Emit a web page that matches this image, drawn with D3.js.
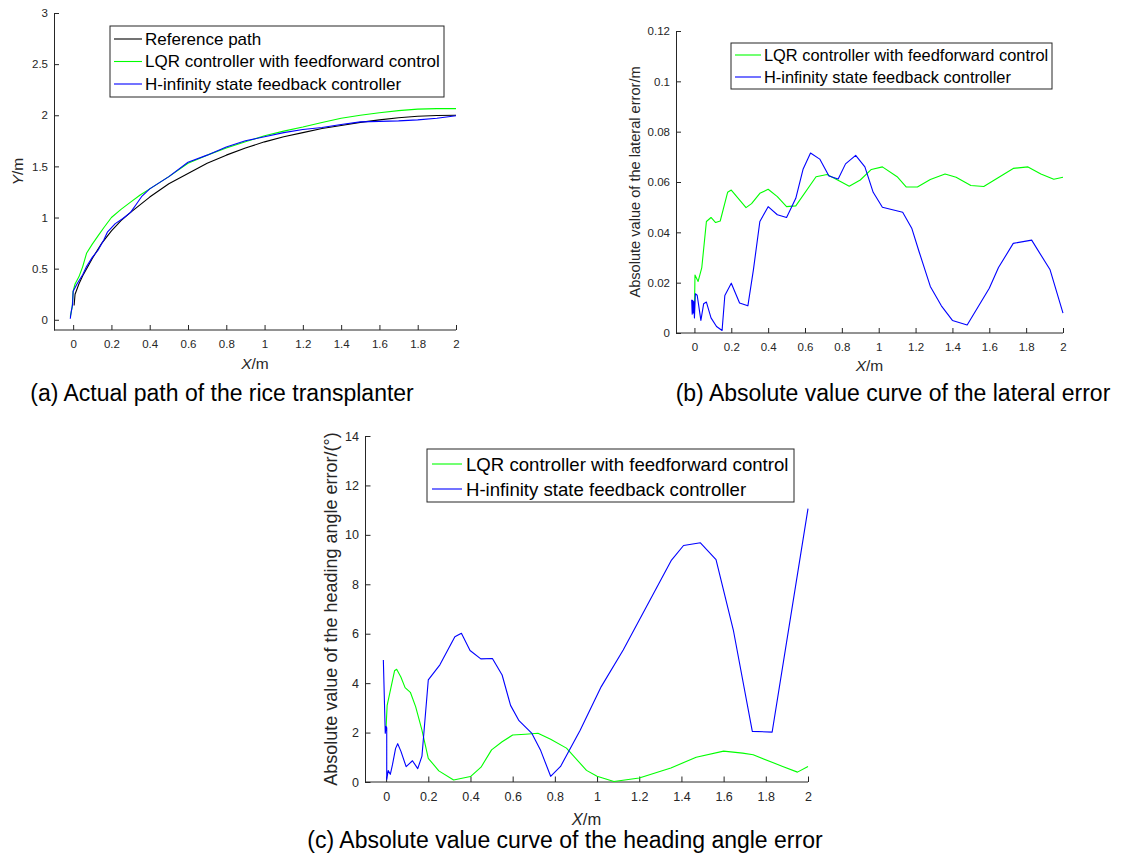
<!DOCTYPE html>
<html>
<head>
<meta charset="utf-8">
<script src="https://cdn.jsdelivr.net/npm/d3@7"></script>
<style>
  body { margin: 0; background: #fff; }
  svg { display: block; font-family: "Liberation Sans", Arial, sans-serif; }
</style>
</head>
<body>
<div id="app"></div>
<script>
// ---- data ----
// (a) actual path
const refX = [0.005, 0.01, 0.03, 0.05, 0.08, 0.1, 0.15, 0.2, 0.25, 0.3, 0.4, 0.5, 0.6, 0.7, 0.8, 0.9, 1.0, 1.1, 1.2, 1.3, 1.4, 1.5, 1.6, 1.7, 1.8, 1.9, 2.0]
const refY = [0.14, 0.25, 0.35, 0.43, 0.53, 0.6, 0.75, 0.87, 0.97, 1.05, 1.2, 1.33, 1.43, 1.53, 1.61, 1.68, 1.74, 1.79, 1.83, 1.87, 1.9, 1.93, 1.955, 1.975, 1.99, 1.997, 2.0]
const lqrPathX = [-0.015, -0.005, 0.0, 0.01, 0.03, 0.05, 0.07, 0.1, 0.13, 0.16, 0.2, 0.25, 0.3, 0.35, 0.4, 0.5, 0.6, 0.7, 0.8, 0.9, 1.0, 1.1, 1.2, 1.3, 1.4, 1.5, 1.6, 1.7, 1.8, 1.9, 2.0]
const lqrPathY = [0.03, 0.12, 0.28, 0.35, 0.42, 0.52, 0.65, 0.74, 0.82, 0.9, 1.0, 1.08, 1.15, 1.22, 1.28, 1.4, 1.53, 1.61, 1.68, 1.74, 1.8, 1.845, 1.885, 1.93, 1.97, 2.0, 2.025, 2.045, 2.06, 2.065, 2.065]
const hinfPathX = [-0.015, -0.01, -0.003, 0.0, 0.02, 0.05, 0.07, 0.1, 0.13, 0.16, 0.18, 0.22, 0.26, 0.3, 0.33, 0.36, 0.4, 0.5, 0.6, 0.7, 0.8, 0.9, 1.0, 1.1, 1.2, 1.3, 1.4, 1.5, 1.6, 1.7, 1.8, 1.9, 2.0]
const hinfPathY = [0.01, 0.08, 0.15, 0.28, 0.35, 0.44, 0.52, 0.61, 0.68, 0.78, 0.86, 0.94, 0.99, 1.05, 1.13, 1.21, 1.28, 1.4, 1.54, 1.61, 1.69, 1.75, 1.79, 1.83, 1.86, 1.88, 1.91, 1.935, 1.94, 1.945, 1.955, 1.97, 1.995]

// (b) lateral error
const lqrLatX = [0.0, 0.003, 0.02, 0.04, 0.065, 0.09, 0.115, 0.14, 0.18, 0.2, 0.28, 0.31, 0.355, 0.4, 0.45, 0.5, 0.55, 0.66, 0.72, 0.8, 0.84, 0.9, 0.96, 1.02, 1.1, 1.15, 1.21, 1.28, 1.36, 1.42, 1.5, 1.57, 1.73, 1.81, 1.88, 1.95, 2.0]
const lqrLatY = [0.008, 0.023, 0.0205, 0.026, 0.0443, 0.0459, 0.0439, 0.0445, 0.0559, 0.0568, 0.0498, 0.0514, 0.0555, 0.0571, 0.0542, 0.0502, 0.0505, 0.0621, 0.063, 0.0599, 0.0583, 0.0608, 0.065, 0.066, 0.0621, 0.058, 0.058, 0.061, 0.0632, 0.0619, 0.0586, 0.0582, 0.0654, 0.066, 0.0632, 0.0611, 0.0619]
const hinfLatX = [-0.015, -0.012, -0.009, -0.006, -0.003, 0.0, 0.005, 0.015, 0.035, 0.05, 0.065, 0.09, 0.12, 0.15, 0.165, 0.2, 0.245, 0.29, 0.32, 0.355, 0.4, 0.45, 0.5, 0.55, 0.59, 0.63, 0.68, 0.73, 0.78, 0.82, 0.875, 0.925, 0.97, 1.02, 1.13, 1.18, 1.22, 1.28, 1.34, 1.4, 1.48, 1.6, 1.65, 1.73, 1.83, 1.93, 2.0]
const hinfLatY = [0.0132, 0.0075, 0.013, 0.008, 0.0125, 0.006, 0.0156, 0.015, 0.005, 0.0116, 0.0123, 0.006, 0.0026, 0.001, 0.0149, 0.0198, 0.0119, 0.0108, 0.0251, 0.0443, 0.0502, 0.047, 0.0459, 0.0535, 0.0652, 0.0715, 0.0691, 0.0624, 0.0612, 0.0672, 0.0706, 0.066, 0.0559, 0.05, 0.048, 0.0415, 0.0321, 0.0185, 0.0108, 0.005, 0.0032, 0.0178, 0.026, 0.0356, 0.0369, 0.0251, 0.0079]

// (c) heading angle error
const lqrHeadX = [0.0, 0.005, 0.04, 0.05, 0.07, 0.09, 0.115, 0.14, 0.17, 0.2, 0.25, 0.32, 0.4, 0.45, 0.5, 0.55, 0.6, 0.66, 0.72, 0.78, 0.855, 0.95, 1.0, 1.08, 1.2, 1.35, 1.47, 1.6, 1.69, 1.74, 1.88, 1.95, 2.0]
const lqrHeadY = [2.24, 3.1, 4.5, 4.56, 4.25, 3.82, 3.63, 3.05, 2.1, 0.96, 0.45, 0.08, 0.22, 0.6, 1.3, 1.63, 1.9, 1.93, 1.97, 1.73, 1.37, 0.47, 0.23, 0.02, 0.16, 0.57, 1.0, 1.25, 1.17, 1.1, 0.63, 0.4, 0.63]
const hinfHeadX = [-0.013, -0.004, 0.0, 0.003, 0.003, 0.01, 0.02, 0.03, 0.045, 0.055, 0.07, 0.095, 0.125, 0.15, 0.17, 0.2, 0.255, 0.326, 0.357, 0.398, 0.449, 0.504, 0.55, 0.59, 0.63, 0.69, 0.733, 0.78, 0.827, 0.92, 1.02, 1.124, 1.353, 1.41, 1.49, 1.564, 1.646, 1.736, 1.83, 2.0]
const hinfHeadY = [4.94, 1.97, 2.25, 2.2, 0.1, 0.46, 0.31, 0.69, 1.36, 1.55, 1.25, 0.62, 0.86, 0.54, 1.05, 4.13, 4.74, 5.88, 6.02, 5.32, 4.98, 5.0, 4.33, 3.1, 2.48, 1.98, 1.27, 0.23, 0.63, 2.09, 3.86, 5.34, 8.98, 9.57, 9.68, 9.0, 6.15, 2.05, 2.02, 11.06]

const xTicks = [0, 0.2, 0.4, 0.6, 0.8, 1, 1.2, 1.4, 1.6, 1.8, 2]
const yTicksA = [0, 0.5, 1, 1.5, 2, 2.5, 3]
const yTicksB = [0, 0.02, 0.04, 0.06, 0.08, 0.1, 0.12]
const yTicksC = [0, 2, 4, 6, 8, 10, 12, 14]

const nameRef = 'Reference path'
const nameLqr = 'LQR controller with feedforward control'
const nameHinf = 'H-infinity state feedback controller'

const colRef = '#000000'
const colLqr = '#00ff00'
const colHinf = '#0000ff'
const axisCol = '#262626'

const svg = d3.select('#app').append('svg').attr('width', 1137).attr('height', 860)

const zip = (xs, ys) => xs.map((x, i) => [x, ys[i]])
const fmt = (d) => String(+d.toFixed(2))

function drawPanel(p) {
	const x = d3.scaleLinear().domain(p.xDomain).range([p.left, p.right])
	const y = d3.scaleLinear().domain(p.yDomain).range([p.bottom, p.top])
	const g = svg.append('g')

	// axes, ticks pointing inside like MATLAB
	const xAxis = d3.axisBottom(x).tickValues(xTicks).tickFormat(fmt)
		.tickSizeInner(-p.tick).tickSizeOuter(0).tickPadding(p.xPad)
	const yAxis = d3.axisLeft(y).tickValues(p.yTicks).tickFormat(fmt)
		.tickSizeInner(-p.tick).tickSizeOuter(0).tickPadding(6)

	const gx = g.append('g').attr('transform', `translate(0,${p.bottom})`).call(xAxis)
	const gy = g.append('g').attr('transform', `translate(${p.left},0)`).call(yAxis)
	for (const a of [gx, gy]) {
		a.select('.domain').attr('stroke', axisCol)
		a.selectAll('.tick line').attr('stroke', axisCol)
		a.selectAll('.tick text').attr('fill', axisCol).style('font-size', p.tickFont + 'px')
			.style('font-family', '"Liberation Sans", Arial, sans-serif')
	}
	gx.select('.domain').attr('d', `M${p.left},0H${p.right}`)

	// lines
	const line = d3.line().x((d) => x(d[0])).y((d) => y(d[1]))
	p.series.forEach((s) => {
		g.append('path')
			.datum(zip(s.xs, s.ys))
			.attr('d', line)
			.attr('fill', 'none')
			.attr('stroke', s.color)
			.attr('stroke-width', 1.1)
			.attr('stroke-linejoin', 'round')
	})

	// axis labels
	const xl = g.append('text')
		.attr('x', (p.left + p.right) / 2)
		.attr('y', p.xLabelY)
		.attr('text-anchor', 'middle')
		.attr('fill', axisCol)
		.style('font-size', p.xLabelFont + 'px')
	xl.append('tspan').attr('font-style', 'italic').text('X')
	xl.append('tspan').text('/m')

	const yl = g.append('text')
		.attr('transform', `translate(${p.yLabelX},${(p.top + p.bottom) / 2}) rotate(-90)`)
		.attr('text-anchor', 'middle')
		.attr('fill', axisCol)
		.style('font-size', p.yLabelFont + 'px')
	if (p.yItalic) {
		yl.append('tspan').attr('font-style', 'italic').text(p.yItalic)
	}
	yl.append('tspan').text(p.yLabel)

	// legend
	const L = p.legend
	const lg = g.append('g')
	lg.append('rect')
		.attr('x', L.x).attr('y', L.y)
		.attr('width', L.w).attr('height', L.h)
		.attr('fill', '#fff').attr('stroke', axisCol).attr('stroke-width', 1)
	p.series.forEach((s, i) => {
		const cy = L.y + L.first + i * L.step
		lg.append('line')
			.attr('x1', L.x + L.l1).attr('x2', L.x + L.l2)
			.attr('y1', cy).attr('y2', cy)
			.attr('stroke', s.color).attr('stroke-width', 1.1)
		lg.append('text')
			.attr('x', L.x + L.tx).attr('y', cy)
			.attr('dy', '0.35em')
			.style('font-size', L.font + 'px')
			.attr('fill', '#000')
			.text(s.name)
	})

	// caption
	svg.append('text')
		.attr('x', p.captionX).attr('y', p.captionY)
		.attr('text-anchor', 'middle')
		.style('font-size', '23px')
		.attr('fill', '#000')
		.text(p.caption)
}

drawPanel({
	left: 54, right: 456, top: 13, bottom: 330,
	xDomain: [-0.1, 2], yDomain: [-0.1, 3], yTicks: yTicksA,
	tick: 5, xPad: 10, tickFont: 11.5, xLabelFont: 15.5, yLabelFont: 15.5,
	xLabelY: 369, yLabelX: 23, yItalic: 'Y', yLabel: '/m',
	legend: { x: 110, y: 26, w: 334, h: 71, first: 13, step: 22.5, l1: 4, l2: 32, tx: 35, font: 17 },
	series: [
		{ xs: refX, ys: refY, color: colRef, name: nameRef },
		{ xs: lqrPathX, ys: lqrPathY, color: colLqr, name: nameLqr },
		{ xs: hinfPathX, ys: hinfPathY, color: colHinf, name: nameHinf },
	],
	caption: '(a) Actual path of the rice transplanter', captionX: 222, captionY: 401,
})

drawPanel({
	left: 676, right: 1063, top: 31, bottom: 333,
	xDomain: [-0.1, 2], yDomain: [0, 0.12], yTicks: yTicksB,
	tick: 5, xPad: 10, tickFont: 11.5, xLabelFont: 15.5, yLabelFont: 14.6,
	xLabelY: 371, yLabelX: 640, yItalic: null, yLabel: 'Absolute value of the lateral error/m',
	legend: { x: 731, y: 43, w: 321, h: 46, first: 12, step: 22, l1: 4, l2: 30, tx: 33, font: 16.4 },
	series: [
		{ xs: lqrLatX, ys: lqrLatY, color: colLqr, name: nameLqr },
		{ xs: hinfLatX, ys: hinfLatY, color: colHinf, name: nameHinf },
	],
	caption: '(b) Absolute value curve of the lateral error', captionX: 893, captionY: 401,
})

drawPanel({
	left: 365, right: 808, top: 436, bottom: 782,
	xDomain: [-0.1, 2], yDomain: [0, 14], yTicks: yTicksC,
	tick: 5.5, xPad: 10, tickFont: 12.5, xLabelFont: 16.5, yLabelFont: 18,
	xLabelY: 825, yLabelX: 337, yItalic: null, yLabel: 'Absolute value of the heading angle error/(°)',
	legend: { x: 427, y: 449, w: 367, h: 53, first: 15, step: 25, l1: 5, l2: 35, tx: 39, font: 18.6 },
	series: [
		{ xs: lqrHeadX, ys: lqrHeadY, color: colLqr, name: nameLqr },
		{ xs: hinfHeadX, ys: hinfHeadY, color: colHinf, name: nameHinf },
	],
	caption: '(c) Absolute value curve of the heading angle error', captionX: 565, captionY: 848,
})
</script>
</body>
</html>
